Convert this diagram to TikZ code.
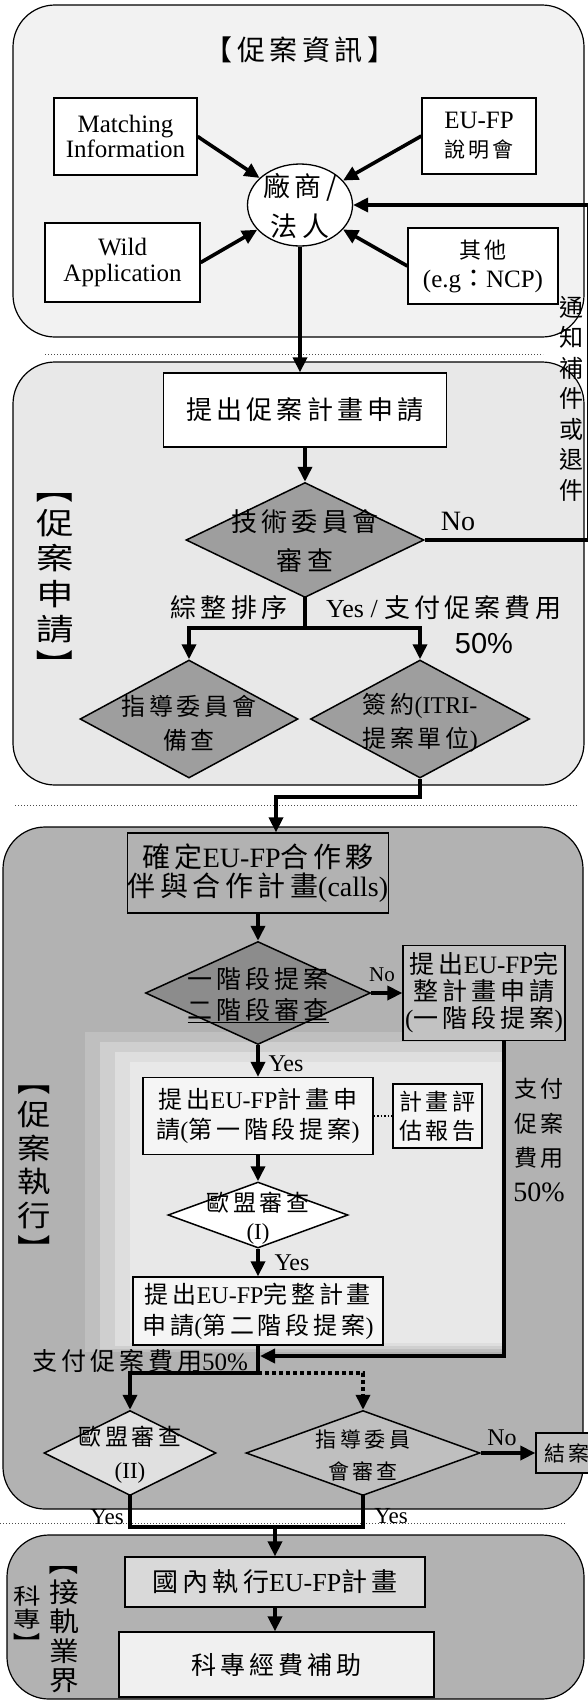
\documentclass[tikz,border=0pt]{standalone}
\usepackage{fontspec}
\usepackage{graphicx}
\setmainfont{Liberation Serif}
\newfontfamily\cjk{Noto Sans CJK TC}
\newfontfamily\cjks[LetterSpace=16]{Noto Sans CJK TC}
\newfontfamily\arialf{Liberation Sans}
\newcommand\zh[1]{{\cjks #1}}
\newcommand\fsz[2]{\fontsize{#1}{#2}\selectfont}
\newcommand\vstack[4]{\scalebox{#1}[1]{\begin{minipage}{60pt}\centering\cjk\fsz{#2}{#3}#4\end{minipage}}}
\newcommand\brtop{\rotatebox[origin=c]{-90}{【}}
\newcommand\brbot{\rotatebox[origin=c]{-90}{】}}
\usetikzlibrary{shapes.geometric,arrows.meta,calc}
\begin{document}
\begin{tikzpicture}[x=1pt,y=-1pt,
  box/.style={draw, line width=1.3pt, inner sep=0pt, align=center},
  dia/.style={diamond, draw, line width=1.5pt, inner sep=0pt},
  lbl/.style={inner sep=0pt, align=center},
  con/.style={line width=3.6pt, line cap=rect},
  arr/.style={line width=3.6pt, -{Triangle[length=15pt,width=14pt]}},
  sepline/.style={line width=1pt, dash pattern=on 1.2pt off 1.8pt, black!70},
  grp/.style={draw, line width=1.2pt, rounded corners=42pt}
]
\useasboundingbox (0,0) rectangle (587,1701);
\fill[white] (0,0) rectangle (587,1701);

% group panels
\path[grp, fill=black!5] (13,5) rectangle (584,337);
\path[grp, fill=black!9] (13,362) rectangle (584,785);
\path[grp, fill=black!30] (3,827) rectangle (583,1509);
\path[grp, fill=black!30] (7,1535) rectangle (584,1699);
% lighter area in the middle of panel 3
\fill[black!25] (85,1032) rectangle (503,1352);
\fill[black!19] (100,1042) rectangle (503,1349);
\fill[black!13] (115,1052) rectangle (503,1346);
\fill[black!9] (130,1062) rectangle (503,1343);

% separators
\draw[sepline] (45,354) -- (543,354);
\draw[sepline] (15,805) -- (577,805);
\draw[sepline] (0,1523) -- (565,1523);

% ---------- panel 1
\node[box, fill=white, minimum width=143pt, minimum height=77pt, font=\fsz{25}{25}] (match) at (125.5,136.5) {Matching\\Information};
\node[box, fill=white, minimum width=114pt, minimum height=76pt, font=\fsz{25}{29}] (eufp) at (479,136) {EU-FP\\{\fsz{21}{29}\zh{說明會}}};
\node[ellipse, draw, fill=white, line width=1.3pt, minimum width=105pt, minimum height=82pt, inner sep=0pt] (circ) at (300,205) {};
\node[box, fill=white, minimum width=155pt, minimum height=79pt, font=\fsz{25}{26}] (wild) at (122.5,262.5) {Wild\\Application};
\node[box, fill=white, minimum width=150pt, minimum height=76pt, font=\fsz{25}{29}] (other) at (483,266) {{\fsz{22}{29}\zh{其他}}\\(e.g{\cjk：}NCP)};

% ---------- panel 2
\node[box, fill=white, minimum width=283pt, minimum height=74pt, font=\fsz{26}{30}] (b2) at (305,410) {\zh{提出促案計畫申請}};
\node[dia, fill=black!38, minimum width=238pt, minimum height=115pt] (d1) at (305,540) {};
\node[dia, fill=black!38, minimum width=218pt, minimum height=118pt] (d2) at (189,719) {};
\node[dia, fill=black!38, minimum width=219pt, minimum height=118pt] (d3) at (420,719) {};

% ---------- panel 3
\node[box, minimum width=259pt, minimum height=80pt, font=\fsz{28}{29}] (b31) at (258,873) {\zh{確定}EU-FP\zh{合作夥}\\\zh{伴與合作計畫}(calls)};
\node[dia, fill=black!45, minimum width=225pt, minimum height=103pt] (d4) at (258,993) {};
\node[box, fill=black!24, minimum width=162pt, minimum height=95pt, font=\fsz{25}{27}] (b32) at (484,993) {\zh{提出}EU-FP\zh{完}\\\zh{整計畫申請}\\(\zh{一階段提案})};
\node[box, fill=black!4, minimum width=230pt, minimum height=77pt, font=\fsz{24}{30}] (b33) at (258,1116) {\zh{提出}EU-FP\zh{計畫申}\\\zh{請}(\zh{第一階段提案})};
\node[box, fill=black!4, minimum width=89pt, minimum height=64pt, font=\fsz{23}{29}] (b34) at (437.5,1116) {\zh{計畫評}\\\zh{估報告}};
\node[dia, fill=white, minimum width=180pt, minimum height=66pt] (d5) at (258,1215) {};
\node[box, fill=black!4, minimum width=250pt, minimum height=68pt, font=\fsz{24}{31}] (b35) at (258,1311) {\zh{提出}EU-FP\zh{完整計畫}\\\zh{申請}(\zh{第二階段提案})};
\node[dia, fill=black!12, minimum width=172pt, minimum height=85pt] (d6) at (130,1453) {};
\node[dia, fill=black!25, minimum width=234pt, minimum height=85pt] (d7) at (363,1453) {};
\node[box, fill=black!25, minimum width=62pt, minimum height=40pt, font=\fsz{21}{21}] (b36) at (567,1453) {\zh{結案}};

% ---------- panel 4
\node[box, fill=black!15, minimum width=300pt, minimum height=50pt, font=\fsz{26}{26}] (b41) at (275,1582) {\zh{國內執行}EU-FP\zh{計畫}};
\node[box, fill=black!6, minimum width=315pt, minimum height=65pt, font=\fsz{25}{25}] (b42) at (276.5,1664.5) {\zh{科專經費補助}};

% ---------- connectors
\draw[arr] (match.east) -- (circ);
\draw[arr] (eufp.west) -- (circ);
\draw[arr] (wild.east) -- (circ);
\draw[arr] (other.west) -- (circ);
\coordinate (fb1) at (589,540);
\coordinate (fb2) at (589,205);
\draw[arr] (d1.east) -- (fb1) -- (fb2) -- (circ.east);
\draw[arr] (circ.south) -- (circ.south |- b2.north);
\draw[arr] (b2.south) -- (d1.north);
\coordinate (br) at (305,628);
\draw[con] (d1.south) -- (br);
\draw[arr] (br) -| (d2.north);
\draw[arr] (br) -| (d3.north);
\coordinate (k1) at (420,797);
\coordinate (k2) at (276,797);
\draw[arr] (d3.south) -- (k1) -- (k2) -- (k2 |- b31.north);
\draw[arr] (b31.south) -- (d4.north);
\draw[arr] (d4.east) -- (b32.west);
\draw[arr] (d4.south) -- (b33.north);
\draw[line width=1.5pt, dash pattern=on 1.5pt off 2pt] (b33.east) -- (b34.west);
\draw[arr] (b33.south) -- (d5.north);
\draw[arr] (d5.south) -- (b35.north);
\coordinate (j1) at (258,1373);
\coordinate (j2) at (130,1373);
\draw[con] (b35.south) -- (j1);
\draw[arr] (j1) -- (j2) -- (d6.north);
\draw[arr, dash pattern=on 4pt off 3pt] (j1) -| (d7.north);
\coordinate (v1) at (504,1356);
\coordinate (v2) at (260,1356);
\draw[arr] (b32.south -| v1) -- (v1) -- (v2);
\draw[arr] (d7.east) -- (b36.west);
\coordinate (y1) at (130,1527);
\coordinate (y2) at (363,1527);
\coordinate (y3) at (275,1527);
\draw[con] (d6.south) -- (y1) -- (y2) -- (d7.south);
\draw[arr] (y3) -- (y3 |- b41.north);
\draw[arr] (b41.south) -- (b41.south |- b42.north);

% ---------- text labels
\node[lbl, font=\fsz{28}{30}] (t1) at (300,50) {\zh{【促案資訊】}};
\node[lbl, font=\fsz{27}{40}] (circt) at (300,206) {\zh{廠商/}\\\zh{法人}};
\node[lbl] (fbt) at (571,398.5) {\vstack{1}{24}{30.5}{通\\知\\補\\件\\或\\退\\件}};

\node[lbl] (t2) at (55,576) {\vstack{1.25}{30}{35.2}{\brtop\\促\\案\\申\\請\\\brbot}};
\node[lbl, font=\fsz{26}{39}] (d1t) at (305,541) {\zh{技術委員會}\\\zh{審查}};
\node[lbl, font=\fsz{28}{28}] (no1) at (458,521) {No};
\node[lbl, font=\fsz{26}{26}] (sort) at (229,608) {\zh{綜整排序}};
\node[lbl, font=\fsz{26}{26}, anchor=west] (yes1) at (326,608) {Yes / \zh{支付促案費用}};
\node[lbl, font=\arialf\fsz{29}{29}] (p50a) at (484,644) {50\%};
\node[lbl, font=\fsz{24}{34}] (d2t) at (189,723) {\zh{指導委員會}\\\zh{備查}};
\node[lbl, font=\fsz{24}{34}] (d3t) at (420,723) {\zh{簽約}(ITRI-\\\zh{提案單位})};

\node[lbl] (t3) at (34,1165) {\vstack{1.15}{29}{33.6}{\brtop\\促\\案\\執\\行\\\brbot}};
\node[lbl, font=\fsz{25}{31}] (d4t) at (258,995) {\zh{一階段提案}\\\underline{\zh{二階段審查}}};
\node[lbl, font=\fsz{21}{21}] (no2) at (382,975) {No};
\node[lbl, font=\fsz{24}{24}] (yes2) at (286,1064) {Yes};
\node[lbl, font=\fsz{23}{34.5}] (pay2) at (539,1140) {\zh{支付}\\\zh{促案}\\\zh{費用}\\{\fsz{28}{34.5}50\%}};
\node[lbl, font=\fsz{23}{28}] (d5t) at (258,1218) {\zh{歐盟審查}\\(I)};
\node[lbl, font=\fsz{24}{24}] (yes3) at (292,1263) {Yes};
\node[lbl, font=\fsz{25}{25}] (pay3) at (140,1361) {\zh{支付促案費用}50\%};
\node[lbl, font=\fsz{23}{33}] (d6t) at (130,1455) {\zh{歐盟審查}\\(II)};
\node[lbl, font=\fsz{21}{32}] (d7t) at (363,1455) {\zh{指導委員}\\\zh{會審查}};
\node[lbl, font=\fsz{24}{24}] (no3) at (502,1438) {No};
\node[lbl, font=\fsz{23}{23}] (yes4) at (107,1517) {Yes};
\node[lbl, font=\fsz{23}{23}] (yes5) at (391,1516) {Yes};

\node[lbl] (t4a) at (64,1621) {\vstack{1.1}{27}{29.5}{\brtop\\接\\軌\\業\\界}};
\node[lbl] (t4b) at (27,1620) {\vstack{1.25}{22}{23.5}{科\\專\\\brbot}};
\end{tikzpicture}
\end{document}
